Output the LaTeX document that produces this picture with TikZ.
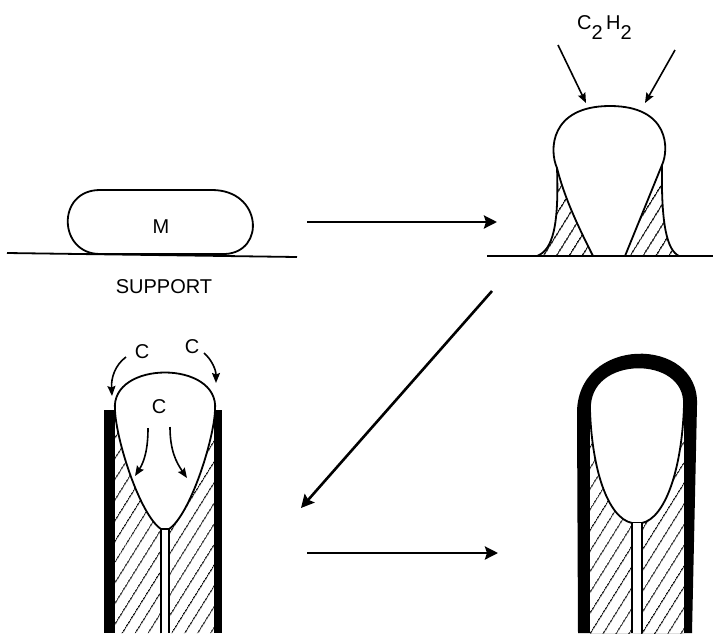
\documentclass[tikz,border=0pt]{standalone}
\usepackage{fontspec}
\setmainfont{Liberation Sans}
\usetikzlibrary{arrows.meta,patterns.meta}

\begin{document}
\begin{tikzpicture}[x=1pt,y=-1pt,
    outline/.style={line width=1.8pt, line join=round},
    hatch/.style={pattern={Lines[angle=58,distance=10.5pt,line width=1.1pt]}},
    coat/.style={fill=black},
    stage/.style={line width=2.6pt, -{Stealth[length=13pt,width=13pt,inset=2pt]}},
    flow/.style={line width=1.6pt, -{Stealth[length=10pt,width=8pt,inset=1.5pt]}},
    lbl/.style={font=\fontsize{20}{24}\selectfont, inner sep=0pt}]
\useasboundingbox (0,0) rectangle (715,633);

% particle on the support
\draw[outline] (7,253) -- (297,257);
\draw[outline] (100,190) -- (212,190) .. controls (262,190) and (266,252) .. (225,254) -- (100,254) .. controls (58,254) and (56,190) .. (100,190) -- cycle;
\node[lbl] (m) at (161,227) {M};
\node[lbl] (support) at (164,287) {SUPPORT};

% lifted drop
\fill[hatch] (557,168) .. controls (559,225) and (553,250) .. (537,256) -- (593,256) .. controls (580,230) and (565,200) .. (557,168) -- cycle;
\fill[hatch] (662,165) .. controls (661,225) and (667,250) .. (679,256) -- (625,256) -- cycle;
\draw[outline] (487,256) -- (713,256);
\draw[outline] (593,256) .. controls (580,230) and (565,200) .. (557,168) .. controls (549,150) and (550,106) .. (610,106) .. controls (670,106) and (669,150) .. (662,165) -- (625,256);
\draw[outline] (557,168) .. controls (559,225) and (553,250) .. (537,256);
\draw[outline] (662,165) .. controls (661,225) and (667,250) .. (679,256);
\node[lbl, anchor=base west] (gas) at (577,29) {C\raisebox{-10pt}{2}\,H\raisebox{-10pt}{2}};
\coordinate (gasL) at (558,45);
\coordinate (gasR) at (675,50);
\coordinate (topL) at (586,103);
\coordinate (topR) at (645,103);
\draw[flow] (gasL) -- (topL);
\draw[flow] (gasR) -- (topR);

% growing filament
\fill[hatch] (115,410) -- (115,633) -- (161,633) -- (161,529) .. controls (140,515) and (116,440) .. (115,410) -- cycle;
\fill[hatch] (169,633) -- (169,529) .. controls (190,515) and (214,440) .. (215,410) -- (215,633) -- cycle;
\draw[outline] (115,410) .. controls (110,360) and (220,360) .. (215,410) .. controls (214,440) and (190,515) .. (169,529) -- (161,529) .. controls (140,515) and (116,440) .. (115,410) -- cycle;
\draw[outline] (161,529) -- (161,633) (169,529) -- (169,633);
\fill[coat] (104,410) rectangle (115,633);
\fill[coat] (214,410) rectangle (222,633);
\node[lbl] (c1) at (142,352) {C};
\node[lbl] (c2) at (192,347) {C};
\node[lbl] (c3) at (159,407) {C};
\draw[flow] (126,357) .. controls (115,365) and (111,378) .. (112,396);
\draw[flow] (204,353) .. controls (212,360) and (216,370) .. (216,383);
\draw[flow] (148,428) .. controls (148,450) and (144,462) .. (135,476);
\draw[flow] (170,427) .. controls (170,450) and (176,462) .. (187,478);

% encapsulated drop
\fill[coat] (578,633) -- (577,415) .. controls (575,335) and (700,335) .. (697,405) -- (692,633) -- cycle;
\fill[white] (590,425) rectangle (684,633);
\fill[hatch] (590,425) rectangle (684,633);
\filldraw[outline, fill=white] (642,523) .. controls (665,518) and (682,470) .. (684,405) .. controls (687,354) and (587,354) .. (590,410) .. controls (592,470) and (608,518) .. (632,523) -- cycle;
\fill[white] (632,523) rectangle (642,633);
\draw[outline] (632,523) -- (632,633) (642,523) -- (642,633);

% stages
\coordinate (s1) at (307,222);
\coordinate (e1) at (497,222);
\coordinate (s2) at (492,291);
\coordinate (e2) at (301,508);
\coordinate (s3) at (307,553);
\coordinate (e3) at (498,553);
\draw[stage] (s1) -- (e1);
\draw[stage] (s2) -- (e2);
\draw[stage] (s3) -- (e3);
\end{tikzpicture}
\end{document}
